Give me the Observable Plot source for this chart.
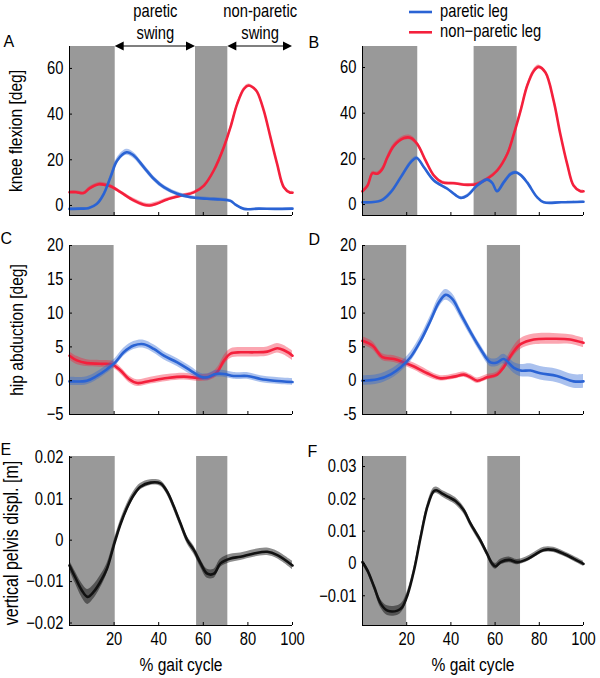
<!DOCTYPE html>
<html><head><meta charset="utf-8">
<script src="https://cdn.jsdelivr.net/npm/d3@7"></script>
<script src="https://cdn.jsdelivr.net/npm/@observablehq/plot@0.6"></script>
<style>
body{margin:0;background:#fff;}
#wrap{position:relative;width:600px;height:678px;overflow:hidden;background:#fff;}
</style></head><body><div id="wrap"></div>
<script>
// ---------------- data ----------------
const xTicks = [20, 40, 60, 80, 100];
const kneeTicks = [0, 20, 40, 60];
const hipTicks = [-5, 0, 5, 10, 15, 20];
const pelvisTicksE = [-0.02, -0.01, 0, 0.01, 0.02];
const pelvisTicksF = [-0.01, 0, 0.01, 0.02, 0.03];

const legendLabels = ["paretic leg", "non\u2212paretic leg"];
const swingLabels = ["paretic\nswing", "non-paretic\nswing"];
const panelLetters = ["A", "B", "C", "D", "E", "F"];

// gray (double support) periods, % gait cycle
const bandsA = [[0, 20.5], [56.5, 71]];
const bandsB = [[0, 25], [50.5, 70]];
const bandsC = [[0, 20], [57, 71]];
const bandsD = [[0, 20], [56.5, 71.5]];
const bandsE = [[0, 20.5], [57, 71]];
const bandsF = [[0, 20], [56.7, 71.5]];

// [% gait cycle, mean, spread]
const kneeA_paretic = [[0,-1.5,.4],[5,-1.4,.4],[8.5,-1.2,.4],[12.3,0.7,.5],[15.4,5.1,.7],[18.4,12.4,1],[21.4,19.7,1.2],[25.6,23.3,1.3],[28.8,21.9,1.3],[33.3,16.8,1.2],[37.8,11.7,1.1],[42.3,8.0,1],[48.3,5.1,.9],[54.3,3.6,.8],[61.7,2.9,.7],[67.7,2.6,.7],[72.2,2.0,.6],[74.4,0.4,.5],[78.2,-1.5,.4],[85,-1.4,.3],[92,-1.5,.3],[100,-1.4,.3]];
const kneeA_nonparetic = [[0,5.8,.6],[3,5.8,.6],[6.3,5.4,.6],[9,7.5,.7],[13.1,9.3,.8],[16,9.0,.8],[18.4,8.4,.8],[22.9,5.8,.8],[28.8,2.2,.9],[33.3,0.3,.9],[36,0,.9],[39.3,0.8,.8],[43.8,2.6,.7],[49.8,4.2,.6],[55.8,5.7,.6],[60.3,8.7,.6],[64.7,15.3,.6],[69.2,25.5,.6],[72.2,34.3,.6],[75.2,44.5,.6],[78.2,51,.7],[80.4,52.5,.7],[82.5,51.5,.7],[84.2,49.6,.7],[87.1,41.6,.6],[90.1,29.9,.6],[93.1,18.2,.6],[96.1,8.0,.6],[99,5.6,.6],[100,5.6,.6]];
const kneeB_paretic = [[0,1.0,.3],[8.3,1.7,.4],[12.8,5.4,.5],[17.3,11.9,.6],[21.8,18.5,.7],[24.5,20.4,.7],[27.8,16.3,.7],[32.3,10.5,.6],[38.4,6.9,.6],[42,4.2,.6],[44.4,2.9,.6],[47.4,3.9,.6],[51.9,8.3,.6],[56.4,10.9,.6],[58.7,9.5,.6],[60.9,5.8,.6],[63.9,9.7,.6],[67,13.3,.6],[69.2,14.1,.6],[71.5,13.0,.6],[74.5,9.7,.5],[79,3.2,.4],[82,1.0,.3],[90,1.0,.3],[100,1.2,.3]];
const kneeB_nonparetic = [[0,5.8,.6],[2.3,8.3,.7],[4.5,13.7,.8],[6.8,13.5,.8],[9.0,15.6,.8],[11.3,20.7,.9],[14.3,25.8,1],[18.8,29.1,1],[21.8,29.2,1],[24.8,26.5,1],[28.6,19.2,.9],[32.3,12.7,.8],[36.1,9.7,.7],[41.4,9.3,.6],[47.4,8.6,.6],[51.9,9.0,.6],[56.4,11.2,.6],[60.9,14.8,.6],[65.5,22.1,.6],[68.5,30.9,.6],[71.5,41,.7],[74.5,52,.7],[77.5,58.5,.8],[79.7,60.3,.8],[82.8,57.8,.8],[86.5,45.4,.7],[89.5,30.9,.6],[92.6,17.8,.6],[95.5,8.3,.6],[98.6,5.8,.6],[100,5.8,.6]];
const hipC_paretic = [[0,-0.1,.6],[7.8,0.0,.6],[12.3,0.7,.6],[16.8,1.7,.6],[20.5,2.7,.6],[24.3,4.2,.6],[28.8,5.2,.6],[33.3,5.4,.6],[37.8,4.7,.6],[42.3,3.7,.6],[48.3,2.7,.6],[54.3,1.5,.6],[58.8,0.6,.5],[61.8,0.5,.5],[65.5,1.0,.5],[69.3,1.0,.5],[73.7,0.7,.5],[79.7,0.7,.5],[85.7,0.25,.5],[91.8,0.0,.5],[100,-0.2,.5]];
const hipC_nonparetic = [[0,3.7,.6],[3.3,3.0,.6],[7.8,2.6,.5],[13.8,2.5,.5],[19.1,2.4,.5],[22.9,1.5,.5],[26.6,0.25,.5],[30.4,-0.35,.5],[36.4,0.0,.5],[43.8,0.4,.5],[51.3,0.6,.5],[58.8,0.4,.5],[63.3,0.6,.5],[66.3,1.3,.6],[69.3,3.0,.7],[72.2,4.0,.7],[76.7,4.2,.7],[82.7,4.2,.7],[88.7,4.3,.7],[93.2,4.8,.7],[96.2,4.5,.7],[100,3.7,.7]];
const hipD_paretic = [[0,0,.7],[6.8,0.2,.7],[12.8,0.95,.7],[17.3,2.0,.7],[21.8,3.5,.7],[26.3,5.9,.7],[30.8,8.9,.7],[34.6,11.6,.8],[37.6,12.7,.8],[40.6,12.1,.8],[44.4,9.9,.7],[48.9,7.2,.6],[53.4,4.7,.6],[57.9,2.7,.6],[60.9,2.7,.6],[63.9,3.2,.7],[68.5,1.9,.8],[71.5,1.5,.9],[76,1.5,1],[80.5,1.1,1],[88,0.7,1],[95.5,-0.1,1],[100,-0.1,1]];
const hipD_nonparetic = [[0,5.9,.6],[4.5,5.2,.6],[9,3.5,.5],[14.3,3.2,.5],[18.8,2.7,.5],[23.3,2.1,.5],[29.3,1.1,.5],[35.4,0.35,.4],[41.4,0.6,.4],[45.9,0.9,.4],[48.9,0.5,.4],[51.9,0.0,.4],[56.4,0.5,.4],[60.9,0.9,.4],[63.9,2.0,.5],[67.7,4.0,.7],[71.5,5.4,.8],[77.5,6.1,.8],[86.5,6.2,.8],[94,6.1,.7],[100,5.6,.7]];
const pelvisE = [[0,-0.0061,.0012],[2.5,-0.0089,.0014],[5.5,-0.0121,.0017],[8.1,-0.0137,.0018],[10.8,-0.0125,.0017],[13.8,-0.0101,.0015],[16.8,-0.0069,.0012],[19.7,-0.0016,.001],[22.7,0.0036,.001],[25.7,0.0077,.001],[28.8,0.0109,.0009],[31.8,0.0129,.0008],[36.3,0.0139,.0007],[40.8,0.0137,.0007],[43.8,0.0117,.0008],[46.8,0.0081,.0009],[49.8,0.0040,.0009],[52.8,0.0,.0009],[55.8,-0.0024,.001],[58.8,-0.0056,.001],[61.8,-0.0081,.0011],[64.8,-0.0081,.0011],[67.7,-0.0056,.001],[72.2,-0.0044,.001],[76.7,-0.0040,.0009],[82.7,-0.0032,.0009],[88.7,-0.0028,.0009],[93.2,-0.0036,.0009],[100,-0.0061,.001]];
const pelvisF = [[0,0.0004,.0008],[2.3,-0.0022,.0009],[5.3,-0.0073,.001],[8.3,-0.0125,.0013],[11.3,-0.0146,.0015],[15.8,-0.0146,.0015],[18.0,-0.0135,.0014],[20.3,-0.0099,.0012],[23.3,-0.0022,.001],[26.3,0.0081,.001],[29.3,0.0174,.001],[32.3,0.0224,.001],[33.8,0.0226,.001],[36.1,0.0216,.001],[39.1,0.0205,.0011],[42.1,0.0193,.0011],[45.9,0.0164,.0011],[48.9,0.0123,.001],[53.4,0.0071,.001],[56.4,0.0030,.0009],[58.7,-0.0001,.0009],[60.2,-0.0009,.0009],[62.5,0.0004,.0009],[66.3,0.0011,.0009],[70,0.0004,.0008],[73.8,0.0011,.0008],[77.5,0.0025,.0008],[82,0.0042,.0008],[86.5,0.0042,.0008],[91,0.0030,.0008],[95.5,0.0015,.0008],[100,-0.0001,.0008]];

// ---------------- style ----------------
const FONT = '"Liberation Sans",Arial,sans-serif';
const SQUEEZE = 0.82; // horizontal compression to imitate a narrow face
const BLUE = "#2a63d4", RED = "#f4203c", GRAY = "#999999", BLACK = "#111111";
const minusFmt = d => d === 0 ? "0" : (d < 0 ? "\u2212" : "") + Math.abs(d);
const minusFmt2 = d => d === 0 ? "0" : (d < 0 ? "\u2212" : "") + Math.abs(d).toFixed(2);

const wrap = document.getElementById("wrap");

function squeezeTexts(root) {
  root.querySelectorAll("text").forEach(t => {
    if (panelLetters.includes(t.textContent)) return;
    const tr = t.getAttribute("transform");
    if (tr) t.setAttribute("transform", tr + ` scale(${SQUEEZE},1)`);
    else {
      const x = parseFloat(t.getAttribute("x")) || 0;
      t.setAttribute("x", 0);
      t.setAttribute("transform", `translate(${x},0) scale(${SQUEEZE},1)`);
    }
  });
}

function seriesMarks(data, color, bandColor, bandOpacity) {
  return [
    Plot.areaY(data, {x: d => d[0], y1: d => d[1] - d[2], y2: d => d[1] + d[2], fill: bandColor, fillOpacity: bandOpacity, curve: "catmull-rom"}),
    Plot.lineY(data, {x: d => d[0], y: d => d[1], stroke: color, strokeWidth: 2.6, curve: "catmull-rom"})
  ];
}

function swingArrows(bands) {
  return (index, scales, values, dims) => {
    const g = d3.create("svg:g");
    const y = dims.marginTop;
    const spans = [[bands[0][1], bands[1][0]], [bands[1][1], 100]];
    for (const [a, b] of spans) {
      const x1 = scales.x(a), x2 = scales.x(b);
      g.append("line").attr("x1", x1 + 5).attr("x2", x2 - 5).attr("y1", y).attr("y2", y)
        .attr("stroke", "black").attr("stroke-width", 1.2);
      g.append("path").attr("d", `M${x1},${y}l9,-4.5v9z`).attr("fill", "black");
      g.append("path").attr("d", `M${x2},${y}l-9,-4.5v9z`).attr("fill", "black");
    }
    return g.node();
  };
}

function panel(o) {
  const plotW = o.width - o.mL - o.mR, plotH = o.height - o.mT - o.mB;
  const marks = [
    Plot.rect(o.bands, {x1: d => d[0], x2: d => d[1], fill: GRAY}),
    ...o.series.flatMap(s => seriesMarks(...s)),
    Plot.ruleX([0], {stroke: "black", strokeWidth: 1}),
    Plot.ruleY([o.yDomain[0]], {stroke: "black", strokeWidth: 1}),
    Plot.ruleY(o.yTicks, {insetRight: plotW - 3, stroke: "black"}),
    Plot.ruleX(xTicks, {insetTop: plotH - 3, stroke: "black"}),
    Plot.axisY({ticks: o.yTicks, tickSize: 0, tickPadding: 6, tickFormat: o.yFormat, fontSize: 18, label: null}),
    Plot.text([o.ylabel], {frameAnchor: "left", textAnchor: "middle", lineAnchor: "middle", rotate: -90, dx: o.ylDx, dy: o.ylDy || 0, fontSize: o.ylSize || 19}),
    Plot.text([o.letter], {frameAnchor: "top-left", textAnchor: "start", lineAnchor: "top", dx: o.lDx, dy: o.lDy, fontSize: 16})
  ];
  if (o.xLabels) {
    marks.push(Plot.axisX({ticks: xTicks, tickSize: 0, tickPadding: 7, fontSize: 18, label: null}));
    marks.push(Plot.text(["% gait cycle"], {frameAnchor: "bottom", lineAnchor: "bottom", dy: 45, fontSize: 19}));
  }
  if (o.extra) marks.push(...o.extra);
  const svg = Plot.plot({
    width: o.width, height: o.height,
    marginLeft: o.mL, marginRight: o.mR, marginTop: o.mT, marginBottom: o.mB,
    x: {domain: [0, 100], axis: null},
    y: {domain: o.yDomain, axis: null, label: null},
    style: {fontFamily: FONT, fontSize: "18px", background: "transparent", overflow: "visible", color: "black"},
    marks
  });
  svg.style.position = "absolute";
  svg.style.left = o.left + "px";
  svg.style.top = o.top + "px";
  svg.style.maxWidth = "none";
  squeezeTexts(svg);
  wrap.appendChild(svg);
}

const swingTextA = swingLabels.map((label, i) => ({
  label,
  x: i === 0 ? (bandsA[0][1] + bandsA[1][0]) / 2 : (bandsA[1][1] + 100) / 2
}));

const leftCol = {left: 0, width: 300, mL: 69, mR: 8};
const rightCol = {left: 300, width: 300, mL: 62, mR: 17};
const row1 = {top: 0, height: 230, mT: 46, mB: 15};
const row2 = {top: 230, height: 200, mT: 15, mB: 16};
const row3 = {top: 430, height: 248, mT: 26, mB: 53};

panel({...leftCol, ...row1, yDomain: [-4.4, 69.6], yTicks: kneeTicks, yFormat: minusFmt, bands: bandsA,
  series: [[kneeA_nonparetic, RED, RED, 0.4], [kneeA_paretic, BLUE, BLUE, 0.4]],
  ylabel: "knee flexion [deg]", ylDx: -54, letter: panelLetters[0], lDx: -66, lDy: -11,
  extra: [
    swingArrows(bandsA),
    Plot.text(swingTextA, {x: "x", text: "label", frameAnchor: "top", lineAnchor: "bottom", dy: -7.5, lineHeight: 1.222, fontSize: 18})
  ]});
panel({...rightCol, ...row1, yDomain: [-4.8, 69.2], yTicks: kneeTicks, yFormat: minusFmt, bands: bandsB,
  series: [[kneeB_nonparetic, RED, RED, 0.4], [kneeB_paretic, BLUE, BLUE, 0.4]],
  ylabel: "", ylDx: -54, letter: panelLetters[1], lDx: -54, lDy: -10});
panel({...leftCol, ...row2, yDomain: [-5, 20], yTicks: hipTicks, yFormat: minusFmt, bands: bandsC,
  series: [[hipC_nonparetic, RED, RED, 0.4], [hipC_paretic, BLUE, BLUE, 0.4]],
  ylabel: "hip abduction [deg]", ylDx: -53, letter: panelLetters[2], lDx: -69, lDy: -13});
panel({...rightCol, ...row2, yDomain: [-5, 20], yTicks: hipTicks, yFormat: d => String(d), bands: bandsD,
  series: [[hipD_nonparetic, RED, RED, 0.4], [hipD_paretic, BLUE, BLUE, 0.4]],
  ylabel: "", ylDx: -54, letter: panelLetters[3], lDx: -54, lDy: -12});
panel({...leftCol, ...row3, yDomain: [-0.0206, 0.0202], yTicks: pelvisTicksE, yFormat: minusFmt2, bands: bandsE,
  series: [[pelvisE, BLACK, "#000", 0.45]],
  ylabel: "vertical pelvis displ. [m]", ylDx: -58, ylDy: 2, ylSize: 19.5,
  letter: panelLetters[4], lDx: -69, lDy: -13, xLabels: true});
panel({...rightCol, ...row3, yDomain: [-0.0192, 0.0331], yTicks: pelvisTicksF, yFormat: minusFmt2, bands: bandsF,
  series: [[pelvisF, BLACK, "#000", 0.45]],
  ylabel: "", ylDx: -54, letter: panelLetters[5], lDx: -55, lDy: -11, xLabels: true});

// legend (top, above panel B)
const legend = d3.select(wrap).append("svg")
  .attr("width", 200).attr("height", 44)
  .style("position", "absolute").style("left", "400px").style("top", "0px")
  .style("font-family", FONT).style("font-size", "18px");
legendLabels.forEach((label, i) => {
  const y = 12 + i * 20.3;
  legend.append("line").attr("x1", 9).attr("x2", 32).attr("y1", y).attr("y2", y)
    .attr("stroke", i === 0 ? BLUE : RED).attr("stroke-width", 2.6);
  legend.append("text").attr("transform", `translate(40,${y + 4.5}) scale(${SQUEEZE},1)`)
    .attr("fill", "black").text(label);
});
</script></body></html>
